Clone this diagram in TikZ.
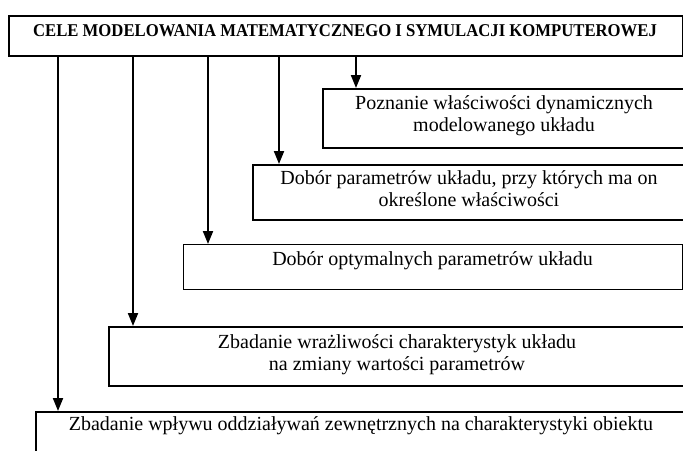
\documentclass[tikz,border=0pt]{standalone}
\usepackage{fontspec}
\setmainfont{Liberation Serif}
\usetikzlibrary{arrows.meta}

\tikzset{
  box/.style={draw=black, line width=1.5pt, rectangle, inner sep=0pt, anchor=north west},
  thinbox/.style={box, line width=1pt},
  % multi-line captions are placed by the baseline of their last line
  boxtext/.style={inner sep=0pt, align=center, anchor=base,
    font=\fontsize{20}{21.7}\selectfont},
  titletext/.style={inner sep=0pt, anchor=base,
    font=\fontsize{18}{21}\selectfont\bfseries},
  arr/.style={line width=2pt, -{Triangle[length=13pt,width=10pt]}}
}

\begin{document}
\begin{tikzpicture}[x=1pt, y=-1pt]
  \useasboundingbox (0,0) rectangle (683,450);
  \clip (0,0) rectangle (683,450);
  \fill[white] (0,0) rectangle (683,450);

  % frames
  \node[box, line width=1.7pt, minimum width=674pt, minimum height=40pt] (top)  at (8,15)   {};
  \node[box,     minimum width=364pt, minimum height=59pt] (pozn) at (322,88)  {};
  \node[box,     minimum width=434pt, minimum height=55pt] (par)  at (252,164) {};
  \node[thinbox, minimum width=499pt, minimum height=45pt] (opt)  at (183,244) {};
  \node[box,     minimum width=578pt, minimum height=59pt] (wraz) at (108,326) {};
  \node[box,     minimum width=652pt, minimum height=59pt] (wpl)  at (35,411)  {};

  % captions
  \node[titletext] (ttop) at (345,36)
    {\scalebox{0.927}[1]{CELE MODELOWANIA MATEMATYCZNEGO I SYMULACJI KOMPUTEROWEJ}};
  \node[boxtext] (tpozn) at (504,131)
    {Poznanie właściwości dynamicznych\\modelowanego układu};
  \node[boxtext] (tpar) at (469,206)
    {Dobór parametrów układu, przy których ma on\\określone właściwości};
  \node[boxtext] (topt) at (432.5,265)
    {Dobór optymalnych parametrów układu};
  \node[boxtext] (twraz) at (397,370)
    {Zbadanie wrażliwości charakterystyk układu\\na zmiany wartości parametrów};
  \node[boxtext] (twpl) at (361,430.7)
    {Zbadanie wpływu oddziaływań zewnętrznych na charakterystyki obiektu};

  % arrow columns
  \coordinate (c1) at (356,0);
  \coordinate (c2) at (279,0);
  \coordinate (c3) at (208,0);
  \coordinate (c4) at (133,0);
  \coordinate (c5) at (58,0);

  \draw[arr] (c1 |- top.south) -- (c1 |- pozn.north);
  \draw[arr] (c2 |- top.south) -- (c2 |- par.north);
  \draw[arr] (c3 |- top.south) -- (c3 |- opt.north);
  \draw[arr] (c4 |- top.south) -- (c4 |- wraz.north);
  \draw[arr] (c5 |- top.south) -- (c5 |- wpl.north);
\end{tikzpicture}
\end{document}
